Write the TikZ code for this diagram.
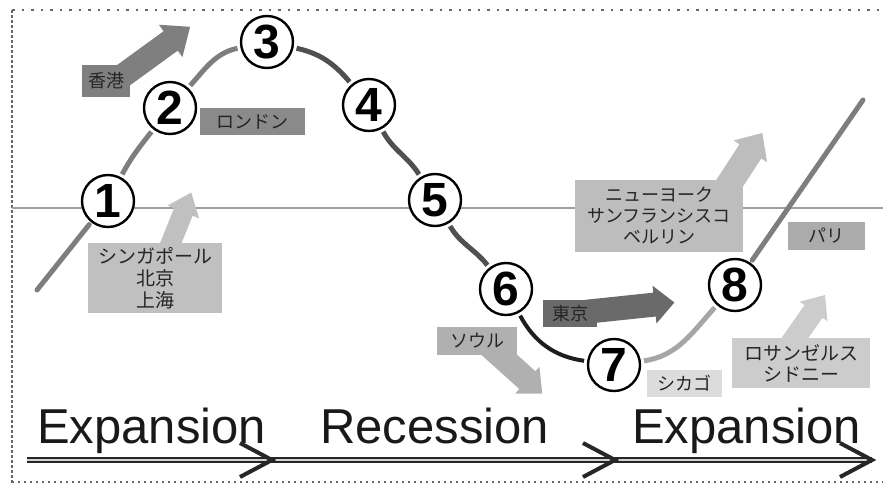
\documentclass[tikz,border=0pt]{standalone}
\usepackage{fontspec}
\setmainfont{Liberation Sans}
\newfontfamily\jp{Noto Sans CJK JP}
\definecolor{waveA}{HTML}{7E7E7E}
\definecolor{waveB}{HTML}{505050}
\definecolor{waveC}{HTML}{1E1E1E}
\definecolor{waveD}{HTML}{A6A6A6}
\definecolor{txt}{HTML}{252525}
\definecolor{bxHK}{HTML}{7F7F7F}
\definecolor{bxLD}{HTML}{8A8A8A}
\definecolor{bxSG}{HTML}{C0C0C0}
\definecolor{bxSE}{HTML}{B0B0B0}
\definecolor{bxTK}{HTML}{6A6A6A}
\definecolor{bxNY}{HTML}{BDBDBD}
\definecolor{bxPA}{HTML}{ABABAB}
\definecolor{bxCH}{HTML}{DCDCDC}
\definecolor{bxLA}{HTML}{CCCCCC}
\newcommand\blockarr[8]{%
  \begin{scope}[shift={(#2,#3)},rotate=#4]
    \fill[#1] (0,-#6) -- ({#5-#8},-#6) -- ({#5-#8},-#7) -- (#5,0) -- ({#5-#8},#7) -- ({#5-#8},#6) -- (0,#6) -- cycle;
  \end{scope}}
\tikzset{
  city/.style={inner sep=0pt, text=txt, font=\jp\fontsize{18}{21}\selectfont, align=center},
  num/.style={circle, draw=black, line width=2.4pt, fill=white, minimum size=52pt, inner sep=0pt,
    font=\bfseries\fontsize{48}{48}\selectfont},
  wave/.style={line width=5pt, shorten <=3pt, shorten >=3pt},
  phase/.style={anchor=base west, inner sep=0pt, text=black!90, font=\fontsize{49}{49}\selectfont},
  chev/.style={line width=4pt, line join=miter, black!85},
}
\begin{document}
\begin{tikzpicture}[x=1pt,y=1pt]
\useasboundingbox (0,0) rectangle (883,-488);
% border
\draw[gray!80!black, line width=2.5pt, dash pattern=on 2.5pt off 7pt] (12,-10) -- (883,-10);
\draw[gray!80!black, line width=2.5pt, dash pattern=on 3pt off 2pt] (12,-10) -- (12,-484);
\draw[gray!80!black, line width=2.5pt, dash pattern=on 2pt off 4pt] (12,-482) -- (883,-482);
% axis line
\draw[gray!75, line width=1.5pt] (12,-208) -- (883,-208);
% block arrows
\blockarr{bxHK}{110}{-85}{36}{99}{12}{20}{24}
\blockarr{bxSG}{168}{-250}{68}{62}{10}{17}{21}
\blockarr{bxSE}{485}{-342}{-42}{77}{12}{18}{20}
\blockarr{bxTK}{565}{-314}{6}{110}{12}{19}{20}
\blockarr{bxNY}{722}{-195}{57}{74}{13}{20}{22}
\blockarr{bxLA}{790}{-345}{55}{61}{11}{17}{20}
% boxes
\node[city, fill=bxHK, minimum width=48pt, minimum height=32pt] (hk) at (106,-81) {香港};
\node[city, fill=bxLD, minimum width=105pt, minimum height=27pt] (ld) at (252.5,-121.5) {ロンドン};
\node[city, fill=bxSG, minimum width=134pt, minimum height=70pt, font=\jp\fontsize{19}{22}\selectfont] (sg) at (155,-278) {シンガポール\\北京\\上海};
\node[city, fill=bxSE, minimum width=80pt, minimum height=28pt] (se) at (477,-341) {ソウル};
\node[city, fill=bxTK, minimum width=54pt, minimum height=27pt] (tk) at (570,-313.5) {東京};
\node[city, fill=bxNY, minimum width=168pt, minimum height=72pt] (ny) at (659,-216) {ニューヨーク\\サンフランシスコ\\ベルリン};
\node[city, fill=bxPA, minimum width=77pt, minimum height=28pt] (pa) at (826.5,-236) {パリ};
\node[city, fill=bxCH, minimum width=75pt, minimum height=27pt] (ch) at (684.5,-383.5) {シカゴ};
\node[city, fill=bxLA, minimum width=138pt, minimum height=50pt, font=\jp\fontsize{19}{21}\selectfont] (la) at (801,-363) {ロサンゼルス\\シドニー};
% circled numbers
\node[num] (c1) at (108,-201) {1};
\node[num] (c2) at (170,-108) {2};
\node[num] (c3) at (267,-42) {3};
\node[num] (c4) at (369,-105) {4};
\node[num] (c5) at (435,-200) {5};
\node[num] (c6) at (506,-289) {6};
\node[num] (c7) at (614,-365) {7};
\node[num] (c8) at (735,-285) {8};
\coordinate (s) at (37,-290);
\coordinate (e) at (863,-100);
% wave
\draw[wave, waveA, line cap=round, shorten <=0pt] (s) -- (c1);
\draw[wave, waveA] (c1) to[out=62,in=232] (c2);
\draw[wave, waveA] (c2) to[out=48,in=192] (c3);
\draw[wave, waveB] (c3) to[out=-12,in=130] (c4);
\draw[wave, waveB] (c4) to[out=-62,in=122] (c5);
\draw[wave, waveB] (c5) to[out=-60,in=128] (c6);
\draw[wave, waveC, line width=4pt] (c6) to[out=-62,in=172] (c7);
\draw[wave, waveD] (c7) to[out=8,in=228] (c8);
\draw[wave, waveA, line cap=round, shorten >=0pt] (c8) -- (e);
% phases
\node[phase] (p1) at (37,-443) {Expansion};
\node[phase] (p2) at (320,-443) {Recession};
\node[phase] (p3) at (632,-443) {Expansion};
% bottom arrows
\coordinate (b0) at (27,-460);
\coordinate (b1) at (272,-460);
\coordinate (b2) at (615,-460);
\coordinate (b3) at (872,-460);
\draw[black!85, line width=2pt, double=gray!35, double distance=1.5pt] (b0) -- (b3);
\foreach \t in {b1,b2,b3}{
  \draw[chev] ([shift={(-32,17)}]\t) -- (\t) -- ([shift={(-32,-17)}]\t);
}
\end{tikzpicture}
\end{document}
